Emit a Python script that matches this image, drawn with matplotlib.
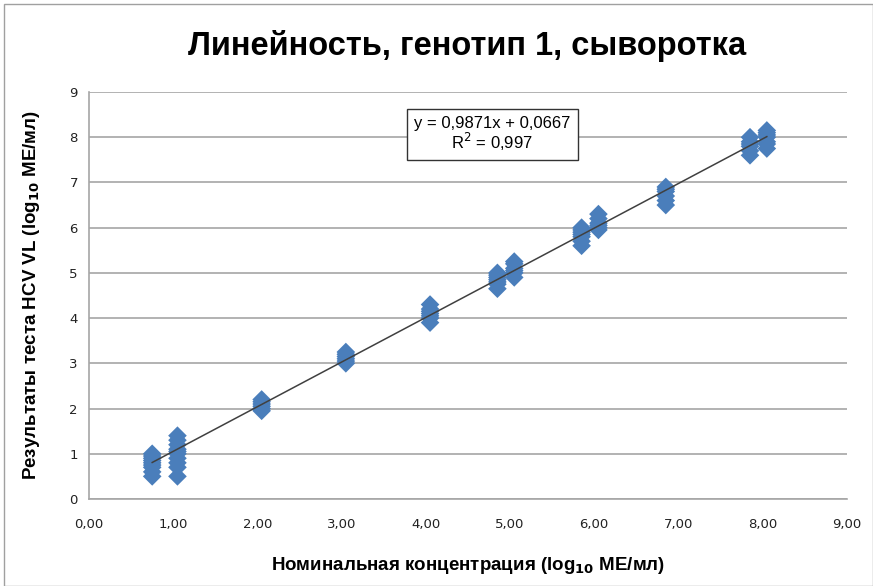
import numpy as np
import matplotlib.pyplot as plt
from matplotlib.patches import Rectangle

# nominal concentrations (log10 IU/ml) and measured results per level
levels = [0.75, 1.05, 2.05, 3.05, 4.05, 4.85, 5.05, 5.85, 6.05, 6.85, 7.85, 8.05]
results = [
    [0.5, 0.6, 0.7, 0.75, 0.8, 0.85, 0.9, 0.95, 1.0],
    [0.5, 0.7, 0.8, 0.9, 1.0, 1.05, 1.1, 1.2, 1.3, 1.4],
    [1.95, 2.0, 2.05, 2.1, 2.15, 2.2],
    [3.0, 3.05, 3.1, 3.15, 3.2, 3.25],
    [3.9, 4.0, 4.05, 4.1, 4.15, 4.2, 4.3],
    [4.65, 4.75, 4.8, 4.85, 4.9, 4.95, 5.0],
    [4.9, 5.0, 5.05, 5.1, 5.2, 5.25],
    [5.6, 5.7, 5.8, 5.85, 5.9, 5.95, 6.0],
    [5.95, 6.0, 6.05, 6.1, 6.2, 6.3],
    [6.5, 6.6, 6.7, 6.8, 6.85, 6.9],
    [7.6, 7.7, 7.8, 7.85, 7.9, 8.0],
    [7.75, 7.85, 7.9, 8.0, 8.05, 8.1, 8.15],
]
slope = 0.9871
intercept = 0.0667
r2 = 0.997

xs = []
ys = []
for lv, vals in zip(levels, results):
    xs += [lv] * len(vals)
    ys += vals
xs = np.array(xs)
ys = np.array(ys)

fig = plt.figure(figsize=(8.73, 5.86), dpi=100)
fig.patches.append(Rectangle((0.005, 0.0), 0.995, 0.993, transform=fig.transFigure,
                             fill=False, edgecolor="#a0a0a0", linewidth=1))
ax = fig.add_axes([0.102, 0.1485, 0.868, 0.6945])

ax.scatter(xs, ys, marker="D", s=90, color="#4a7ebb", edgecolors="none", zorder=3)
xl = np.array([xs.min(), xs.max()])
ax.plot(xl, slope * xl + intercept, color="#404040", linewidth=1.1, zorder=4)

ax.set_xlim(0, 9)
ax.set_ylim(0, 9)
ax.set_xticks(range(10))
ax.set_xticklabels(["%d,00" % i for i in range(10)])
ax.set_yticks(range(10))
ax.tick_params(length=0, labelsize=9.5, colors="#222222", pad=8)
ax.tick_params(axis="x", pad=14)
ax.yaxis.grid(True, color="#a6a6a6", linewidth=1.2)
ax.set_axisbelow(True)
for s in ["top", "right"]:
    ax.spines[s].set_visible(False)
for s in ["left", "bottom"]:
    ax.spines[s].set_color("#a6a6a6")
    ax.spines[s].set_linewidth(1.2)

fig.text(0.535, 0.922, "Линейность, генотип 1, сыворотка", ha="center", va="center",
         fontsize=23.5, fontweight="bold", family="Liberation Sans")
ax.set_xlabel("Номинальная концентрация (log$_{\\mathbf{10}}$ МЕ/мл)", fontsize=13.5,
              fontweight="bold", family="Liberation Sans", labelpad=17)
ax.set_ylabel("Результаты теста HCV VL (log$_{\\mathbf{10}}$ МЕ/мл)", fontsize=13.5,
              fontweight="bold", family="Liberation Sans", labelpad=20)

ax.text(4.79, 8.07, "y = 0,9871x + 0,0667\nR$^2$ = 0,997", ha="center", va="center",
        fontsize=12, family="Liberation Sans", linespacing=1.0,
        bbox=dict(boxstyle="square,pad=0.45", facecolor="white", edgecolor="#333333", linewidth=1))

fig.savefig("out.png", dpi=100)
